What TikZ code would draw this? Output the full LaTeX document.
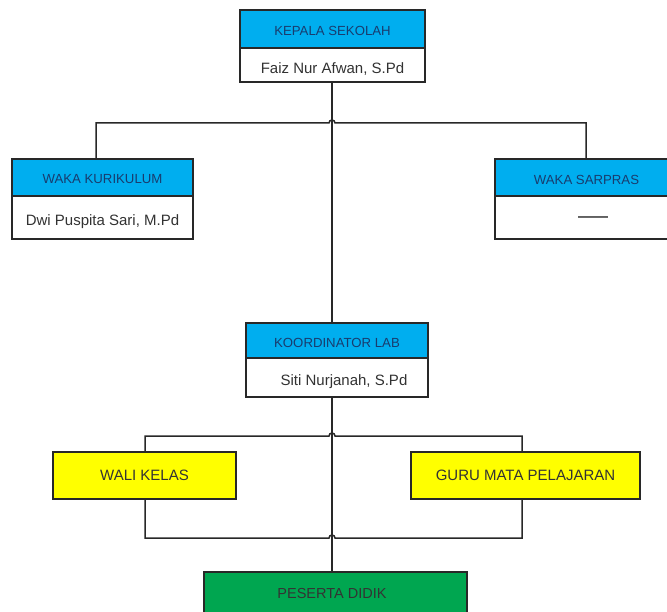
\documentclass[tikz,border=0pt]{standalone}
\usepackage{fontspec}
\setmainfont{Liberation Sans}
\pgfdeclarelayer{bg}
\pgfsetlayers{bg,main}
\definecolor{hdrblue}{RGB}{0,174,239}
\definecolor{hdrtext}{RGB}{25,60,110}
\definecolor{nametext}{RGB}{50,50,50}
\definecolor{ylw}{RGB}{255,255,0}
\definecolor{grn}{RGB}{0,166,80}
\definecolor{edge}{RGB}{40,40,40}
\newcommand{\lowerby}[2]{\raisebox{-#1}[\height][\depth]{#2}}
\begin{document}
\begin{tikzpicture}[x=1pt,y=-1pt,
  hdr/.style={draw=edge,line width=1.3pt,fill=hdrblue,inner sep=0pt,
    text=hdrtext,font=\fontsize{13.2}{14}\selectfont},
  namebox/.style={draw=edge,line width=1.3pt,fill=white,inner sep=0pt,
    text=nametext,font=\fontsize{15}{16}\selectfont},
  ybox/.style={draw=edge,line width=1.3pt,fill=ylw,inner sep=0pt,
    text=black!80,font=\fontsize{15}{16}\selectfont},
  gbox/.style={draw=edge,line width=1.3pt,fill=grn,inner sep=0pt},
  conn/.style={draw=edge,line width=1.5pt}]
\useasboundingbox (0,0) rectangle (667,612);
% Kepala Sekolah
\node[hdr,minimum width=185pt,minimum height=38pt] (kh) at (332.5,29) {\lowerby{2pt}{KEPALA SEKOLAH}};
\node[namebox,minimum width=185pt,minimum height=34pt] (kb) at (332.5,65) {\lowerby{4pt}{Faiz Nur Afwan, S.Pd}};
% Waka Kurikulum
\node[hdr,minimum width=181pt,minimum height=37pt] (wkh) at (102.5,177.5) {\lowerby{2pt}{WAKA KURIKULUM}};
\node[namebox,minimum width=181pt,minimum height=43pt] (wkb) at (102.5,217.5) {\lowerby{4pt}{Dwi Puspita Sari, M.Pd}};
% Waka Sarpras
\node[hdr,minimum width=183pt,minimum height=37pt] (wsh) at (586.5,177.5) {\lowerby{2pt}{WAKA SARPRAS}};
\node[namebox,minimum width=183pt,minimum height=43pt] (wsb) at (586.5,217.5) {};
\node[text=nametext,font=\fontsize{15}{16}\bfseries] (wsd) at (593,219) {——};
% Koordinator Lab
\node[hdr,minimum width=182pt,minimum height=35pt] (koh) at (337,340.5) {\lowerby{2pt}{KOORDINATOR LAB}};
\node[namebox,minimum width=182pt,minimum height=39pt] (kob) at (337,377.5) {\hspace{14pt}\lowerby{4pt}{Siti Nurjanah, S.Pd}};
% Wali Kelas, Guru
\node[ybox,minimum width=183pt,minimum height=47pt] (wali) at (144.5,475.5) {WALI KELAS};
\node[ybox,minimum width=229pt,minimum height=47pt] (guru) at (525.5,475.5) {GURU MATA PELAJARAN};
% Peserta Didik
\node[gbox,minimum width=263pt,minimum height=50pt] (pd) at (335.5,597) {};
\node[text=black!80,font=\fontsize{14.5}{15}\selectfont] (pdt) at (332,594) {PESERTA DIDIK};
% hop coordinates
\coordinate (h1) at (329,123);
\coordinate (h2) at (329,436);
\coordinate (h3) at (335,538);
\coordinate (c1) at (145,436);
\coordinate (c2) at (522,436);
\coordinate (c3) at (522,538);
\coordinate (c4) at (145,538);
\begin{pgfonlayer}{bg}
\draw[conn] (wkh.north -| 96,0) |- (h1) arc[start angle=180,end angle=360,radius=3] -| (wsh.north -| 586,0);
\draw[conn] (kb.south -| 332,0) -- (koh.north -| 332,0);
\draw[conn] (kob.south -| 332,0) -- (pd.north -| 332,0);
\draw[conn] (c1) -- (h2) arc[start angle=180,end angle=360,radius=3] -- (c2) -- (c3)
  -- (h3) arc[start angle=0,end angle=-180,radius=3] -- (c4) -- cycle;
\end{pgfonlayer}
\end{tikzpicture}
\end{document}
